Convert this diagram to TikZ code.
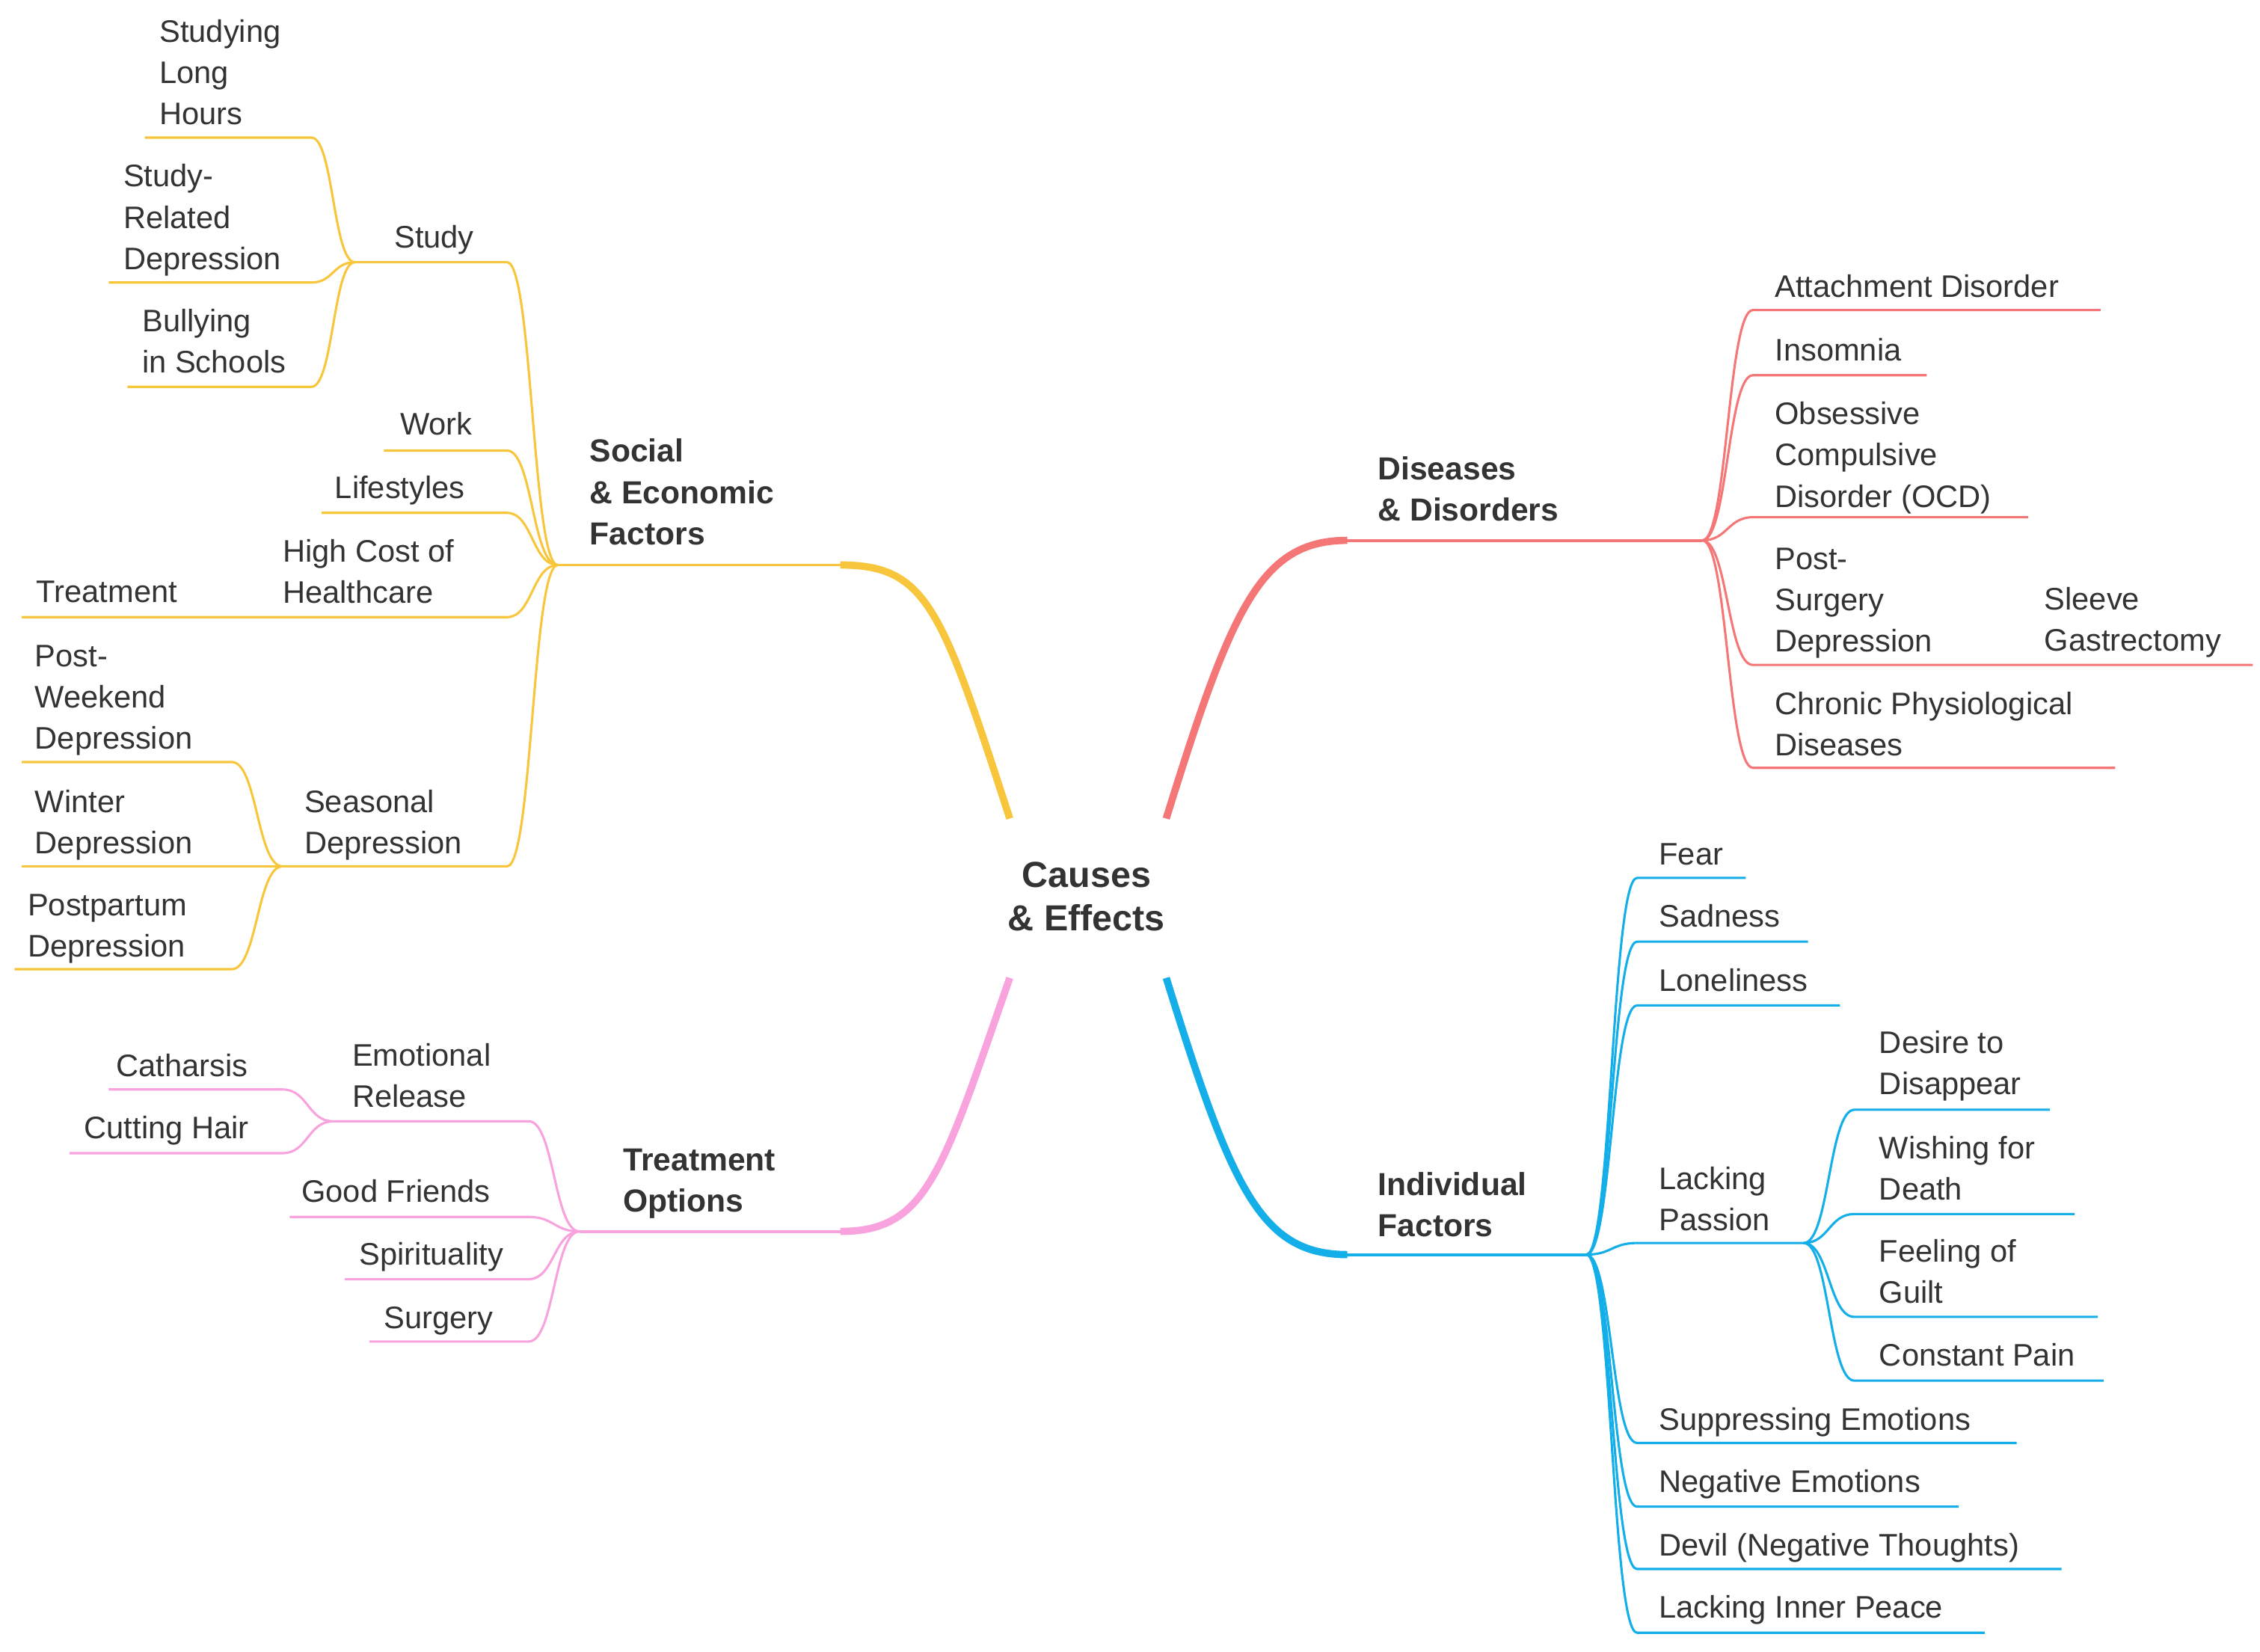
\documentclass[tikz,border=0pt]{standalone}
\usepackage{fontspec}
\setmainfont{Liberation Sans}
\definecolor{cy}{HTML}{F8C63C}
\definecolor{cr}{HTML}{F57676}
\definecolor{cb}{HTML}{14AEE8}
\definecolor{cp}{HTML}{F8A2DE}
\definecolor{tx}{HTML}{333333}
\newcommand{\br}[6]{\draw[#1,line width=1.6pt] (#2,#3) .. controls ({(#2+#4)/2},#3) and ({(#2+#4)/2},#5) .. (#4,#5) -- (#6,#5);}
\newcommand{\lf}[4]{\node[lf] at (#1,{#2+8+(#3-1)*28.5}) {#4};}
\begin{document}
\begin{tikzpicture}[x=1pt,y=-1pt,
  lf/.style={anchor=base west,inner sep=0,align=left,text=tx,font=\fontsize{21.5}{28.5}\selectfont},
  mn/.style={anchor=base west,inner sep=0,align=left,text=tx,font=\fontsize{22}{28.5}\selectfont\bfseries}]
\useasboundingbox (0,0) rectangle (1560,1140);
\node[text=tx,align=center,font=\fontsize{25}{30}\selectfont\bfseries] (c) at (750,619) {Causes\\\& Effects};
% main branches
\draw[cy,line width=5pt] (697,565) .. controls (650,420) and (640,390) .. (580,390);
\draw[cy,line width=2pt] (582,390) -- (385,390);
\draw[cr,line width=5pt] (805,565) .. controls (850,420) and (870,373) .. (930,373);
\draw[cr,line width=2pt] (928,373) -- (1175,373);
\draw[cp,line width=5pt] (697,675) .. controls (650,810) and (640,850) .. (580,850);
\draw[cp,line width=2pt] (582,850) -- (400,850);
\draw[cb,line width=5pt] (805,675) .. controls (850,820) and (870,866) .. (930,866);
\draw[cb,line width=2pt] (928,866) -- (1095,866);
\node[mn] at (407,{319+57}) {Social\\\& Economic\\Factors};
\node[mn] at (951,{331+28.5}) {Diseases\\\& Disorders};
\node[mn] at (430,{808+28.5}) {Treatment\\Options};
\node[mn] at (951,{825+28.5}) {Individual\\Factors};
% yellow
\br{cy}{385}{390}{350}{181}{245}
\br{cy}{245}{181}{215}{95}{100}
\br{cy}{245}{181}{215}{195}{75}
\br{cy}{245}{181}{215}{267}{88}
\br{cy}{385}{390}{350}{311}{265}
\br{cy}{385}{390}{350}{354}{222}
\br{cy}{385}{390}{350}{426}{15}
\br{cy}{385}{390}{350}{598}{195}
\br{cy}{195}{598}{160}{526}{15}
\br{cy}{195}{598}{160}{598}{15}
\br{cy}{195}{598}{160}{669}{10}
\lf{272}{163}{1}{Study}
\lf{110}{21}{3}{Studying\\Long\\Hours}
\lf{85}{121}{3}{Study-\\Related\\Depression}
\lf{98}{221}{2}{Bullying\\in Schools}
\lf{276}{292}{1}{Work}
\lf{231}{336}{1}{Lifestyles}
\lf{195}{380}{2}{High Cost of\\Healthcare}
\lf{25}{408}{1}{Treatment}
\lf{210}{553}{2}{Seasonal\\Depression}
\lf{24}{452}{3}{Post-\\Weekend\\Depression}
\lf{24}{553}{2}{Winter\\Depression}
\lf{19}{624}{2}{Postpartum\\Depression}
% pink
\br{cp}{400}{850}{365}{774}{230}
\br{cp}{230}{774}{195}{752}{75}
\br{cp}{230}{774}{195}{796}{48}
\br{cp}{400}{850}{365}{840}{200}
\br{cp}{400}{850}{365}{883}{238}
\br{cp}{400}{850}{365}{926}{255}
\lf{243}{728}{2}{Emotional\\Release}
\lf{80}{735}{1}{Catharsis}
\lf{58}{778}{1}{Cutting Hair}
\lf{208}{822}{1}{Good Friends}
\lf{248}{865}{1}{Spirituality}
\lf{265}{909}{1}{Surgery}
% red
\br{cr}{1175}{373}{1210}{214}{1450}
\br{cr}{1175}{373}{1210}{259}{1330}
\br{cr}{1175}{373}{1210}{357}{1400}
\br{cr}{1175}{373}{1210}{459}{1555}
\br{cr}{1175}{373}{1210}{530}{1460}
\lf{1225}{197}{1}{Attachment Disorder}
\lf{1225}{241}{1}{Insomnia}
\lf{1225}{285}{3}{Obsessive\\Compulsive\\Disorder (OCD)}
\lf{1225}{385}{3}{Post-\\Surgery\\Depression}
\lf{1411}{413}{2}{Sleeve\\Gastrectomy}
\lf{1225}{485}{2}{Chronic Physiological\\Diseases}
% blue
\br{cb}{1095}{866}{1130}{606}{1205}
\br{cb}{1095}{866}{1130}{650}{1248}
\br{cb}{1095}{866}{1130}{694}{1270}
\br{cb}{1095}{866}{1130}{858}{1245}
\br{cb}{1245}{858}{1280}{766}{1415}
\br{cb}{1245}{858}{1280}{838}{1432}
\br{cb}{1245}{858}{1280}{909}{1448}
\br{cb}{1245}{858}{1280}{953}{1452}
\br{cb}{1095}{866}{1130}{996}{1392}
\br{cb}{1095}{866}{1130}{1040}{1352}
\br{cb}{1095}{866}{1130}{1083}{1423}
\br{cb}{1095}{866}{1130}{1127}{1370}
\lf{1145}{589}{1}{Fear}
\lf{1145}{632}{1}{Sadness}
\lf{1145}{676}{1}{Loneliness}
\lf{1145}{813}{2}{Lacking\\Passion}
\lf{1297}{719}{2}{Desire to\\Disappear}
\lf{1297}{792}{2}{Wishing for\\Death}
\lf{1297}{863}{2}{Feeling of\\Guilt}
\lf{1297}{935}{1}{Constant Pain}
\lf{1145}{979}{1}{Suppressing Emotions}
\lf{1145}{1022}{1}{Negative Emotions}
\lf{1145}{1066}{1}{Devil (Negative Thoughts)}
\lf{1145}{1109}{1}{Lacking Inner Peace}
\end{tikzpicture}
\end{document}
